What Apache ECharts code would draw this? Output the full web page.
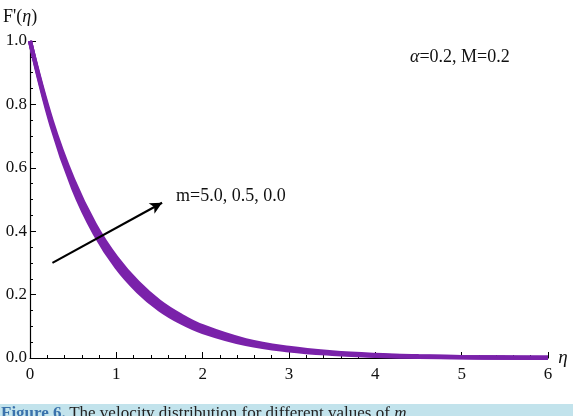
<!DOCTYPE html>
<html><head><meta charset="utf-8">
<script src="https://cdn.jsdelivr.net/npm/echarts@6/dist/echarts.min.js"></script>
<style>html,body{margin:0;padding:0;background:#fff}#c{width:573px;height:416px}</style>
</head><body><div id="c"></div>
<script>
const eta = [0,0.25,0.5,0.75,1,1.25,1.5,1.75,2,2.5,3,3.5,4,4.5,5,5.5,6];
const fM00 = [1,0.750,0.563,0.422,0.317,0.238,0.178,0.134,0.100,0.056,0.032,0.018,0.010,0.0057,0.0032,0.0018,0.0010];
const fM05 = [1,0.741,0.549,0.407,0.301,0.223,0.165,0.122,0.091,0.050,0.027,0.015,0.008,0.0045,0.0025,0.0014,0.0007];
const fM50 = [1,0.732,0.535,0.392,0.287,0.210,0.153,0.112,0.082,0.044,0.024,0.013,0.0067,0.0036,0.0019,0.0010,0.0006];
const arrowStart = [0.26, 0.30];
const arrowEnd = [1.53, 0.49];
const xTicks = [0,1,2,3,4,5,6];
const yTicks = ['0.0','0.2','0.4','0.6','0.8','1.0'];

const serif = 'Liberation Serif, DejaVu Serif, serif';
const purple = '#7A22AA';
const mk = (ys) => eta.map((x,i)=>[x,ys[i]]);
const lineSeries = (name, ys) => ({
  name, type:'line', data: mk(ys), smooth: 0.4, symbol:'none',
  lineStyle:{color:purple, width:4.2}, z:3
});
const chart = echarts.init(document.getElementById('c'));
const s2 = lineSeries('m=5.0', fM50);
s2.markLine = {
  silent:true, symbol:['none','arrow'], symbolSize:[9,12], animation:false,
  lineStyle:{color:'#000', width:2.2, type:'solid'}, label:{show:false},
  data:[[{coord:arrowStart},{coord:arrowEnd}]]
};
chart.setOption({
  animation:false,
  backgroundColor:'#fff',
  grid:{left:30, right:25, top:41, bottom:58},
  xAxis:{
    type:'value', min:0, max:6, interval:1,
    axisLine:{show:true, onZero:false, lineStyle:{color:'#000', width:1.2}},
    axisTick:{show:true, inside:true, length:6, lineStyle:{color:'#000'}},
    minorTick:{show:true, splitNumber:5, length:3, lineStyle:{color:'#000'}},
    splitLine:{show:false},
    axisLabel:{color:'#111', fontFamily:serif, fontSize:17, margin:8,
      formatter:(v)=> xTicks.includes(v) ? String(v) : ''},
    name:'η', nameLocation:'end', nameGap:2,
    nameTextStyle:{fontFamily:serif, fontStyle:'italic', fontSize:19, color:'#111', verticalAlign:'middle'}
  },
  yAxis:{
    type:'value', min:0, max:1, interval:0.2,
    axisLine:{show:true, onZero:false, lineStyle:{color:'#000', width:1.2}},
    axisTick:{show:true, inside:true, length:6, lineStyle:{color:'#000'}},
    minorTick:{show:true, splitNumber:4, length:3, lineStyle:{color:'#000'}},
    splitLine:{show:false},
    axisLabel:{color:'#111', fontFamily:serif, fontSize:17, margin:3,
      formatter:(v)=> yTicks[Math.round(v*5)]}
  },
  graphic:[
    {type:'text', left:3, top:8, style:{rich:{a:{font:'18px '+serif, fill:'#111'}, b:{font:'italic 18px '+serif, fill:'#111'}}, text:"{a|F'(}{b|η}{a|)}"}},
    {type:'text', left:410, top:48, style:{rich:{a:{font:'italic 18px '+serif, fill:'#111'}, b:{font:'18px '+serif, fill:'#111'}}, text:'{a|α}{b|=0.2, M=0.2}'}},
    {type:'text', left:176, top:187, style:{text:'m=5.0, 0.5, 0.0', font:'18px '+serif, fill:'#111'}},
    {type:'rect', left:0, top:404, shape:{width:573, height:12}, style:{fill:'#C2E3EC'}, z:0},
    {type:'text', left:1, top:405, style:{rich:{f:{font:'bold 17px '+serif, fill:'#3A72AC'}, t:{font:'17px '+serif, fill:'#222'}, i:{font:'italic 17px '+serif, fill:'#222'}}, text:'{f|Figure 6.} {t|The velocity distribution for different values of }{i|m}{t|.}'}, z:1}
  ],
  series:[lineSeries('m=0.0', fM00), lineSeries('m=0.5', fM05), s2]
});
</script></body></html>
